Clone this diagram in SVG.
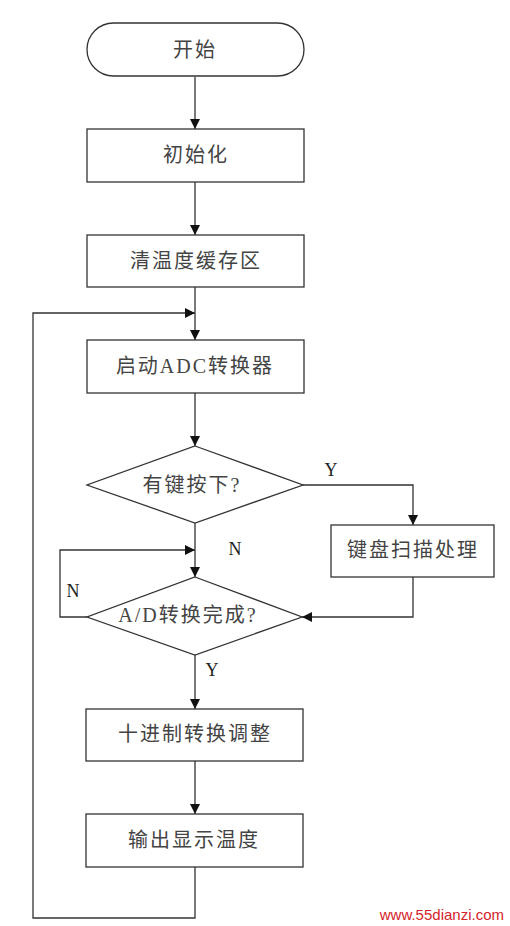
<svg xmlns="http://www.w3.org/2000/svg" width="510" height="926" viewBox="0 0 510 926">
<defs>
<marker id="arr" markerWidth="10" markerHeight="10" refX="10" refY="5" orient="auto" markerUnits="userSpaceOnUse">
<path d="M0,0 L10,5 L0,10 Z" fill="#111"/>
</marker>
</defs>
<style>
.shape{fill:#fff;stroke:#333;stroke-width:1.3}
.line{fill:none;stroke:#333;stroke-width:1.3}
.t{font-family:"Liberation Serif","Noto Sans CJK SC",serif;font-size:20px;fill:#444;text-anchor:middle;dominant-baseline:central;letter-spacing:2px}
.lbl{font-family:"Liberation Serif",serif;font-size:18px;fill:#222;text-anchor:middle;dominant-baseline:central}
.wm{font-family:"Liberation Sans",sans-serif;font-size:15px;fill:#d4242a;text-anchor:end}
</style>
<rect width="510" height="926" fill="#fff"/>
<g id="connectors">
<line class="line" x1="195" y1="77" x2="195" y2="129" marker-end="url(#arr)"/>
<line class="line" x1="195" y1="182" x2="195" y2="235" marker-end="url(#arr)"/>
<line class="line" x1="195" y1="287" x2="195" y2="340" marker-end="url(#arr)"/>
<line class="line" x1="195" y1="393" x2="195" y2="446" marker-end="url(#arr)"/>
<polyline class="line" points="303,485 413,485 413,525" marker-end="url(#arr)"/>
<line class="line" x1="195" y1="523" x2="195" y2="577" marker-end="url(#arr)"/>
<polyline class="line" points="413,577 413,617 302,617" marker-end="url(#arr)"/>
<polyline class="line" points="87,617 60,617 60,550 195,550" marker-end="url(#arr)"/>
<line class="line" x1="195" y1="655" x2="195" y2="709" marker-end="url(#arr)"/>
<line class="line" x1="195" y1="761" x2="195" y2="814" marker-end="url(#arr)"/>
<polyline class="line" points="195,867 195,918 33,918 33,313 195,313" marker-end="url(#arr)"/>
<text class="lbl" x="331" y="470">Y</text>
<text class="lbl" x="235" y="549">N</text>
<text class="lbl" x="73" y="591">N</text>
<text class="lbl" x="212" y="670">Y</text>
</g>
<g id="start">
<rect class="shape" x="87" y="23" width="217" height="53" rx="26.5" ry="26.5"/>
<text class="t" x="195" y="50">开始</text>
</g>
<g id="init">
<rect class="shape" x="87" y="129" width="217" height="53"/>
<text class="t" x="196" y="155">初始化</text>
</g>
<g id="clear">
<rect class="shape" x="87" y="235" width="217" height="52"/>
<text class="t" x="196" y="261">清温度缓存区</text>
</g>
<g id="adc">
<rect class="shape" x="87" y="340" width="217" height="53"/>
<text class="t" x="195" y="366">启动ADC转换器</text>
</g>
<g id="key">
<polygon class="shape" points="195,446 303,485 195,523 87,485"/>
<text class="t" x="192" y="485">有键按下?</text>
</g>
<g id="scan">
<rect class="shape" x="331" y="525" width="163" height="52"/>
<text class="t" x="413" y="550">键盘扫描处理</text>
</g>
<g id="adDone">
<polygon class="shape" points="195,577 302,617 195,655 87,617"/>
<text class="t" x="188" y="615">A/D转换完成?</text>
</g>
<g id="dec">
<rect class="shape" x="86" y="709" width="217" height="52"/>
<text class="t" x="195" y="734">十进制转换调整</text>
</g>
<g id="out">
<rect class="shape" x="86" y="814" width="217" height="53"/>
<text class="t" x="194" y="840">输出显示温度</text>
</g>
<text class="wm" x="504" y="920">www.55dianzi.com</text>
</svg>
